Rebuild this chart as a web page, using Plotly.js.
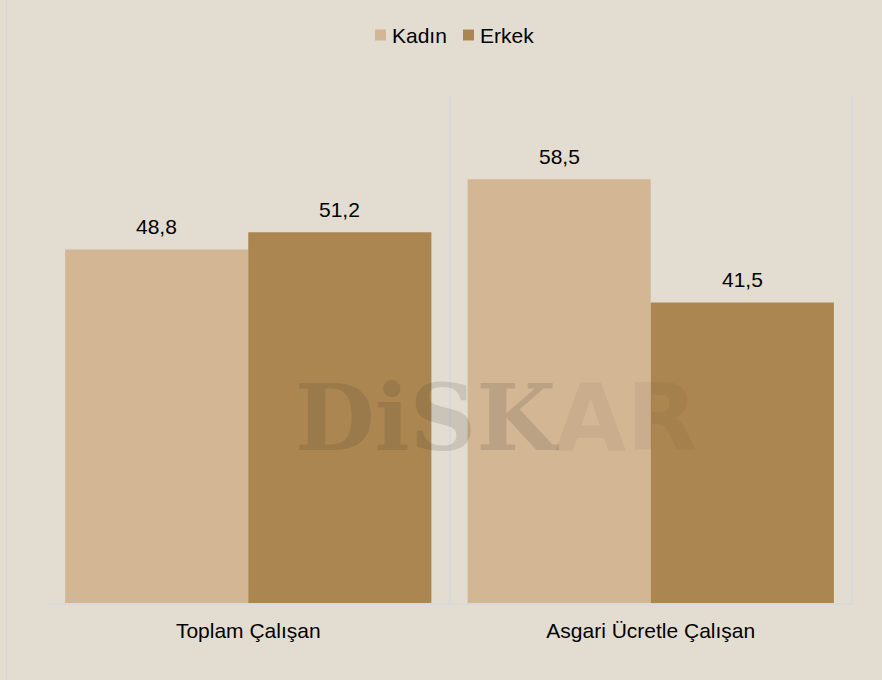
<!DOCTYPE html>
<html>
<head>
<meta charset="utf-8">
<script src="https://cdn.plot.ly/plotly-3.0.1.min.js"></script>
<style>html,body{margin:0;padding:0;background:#E3DDD1;}#chart{width:882px;height:680px;}</style>
</head>
<body>
<div id="chart"></div>
<script>
var categories = ["Toplam Çalışan", "Asgari Ücretle Çalışan"];
var seriesNames = ["Kadın", "Erkek"];
var kadin = [48.8, 58.5];
var erkek = [51.2, 41.5];
var seriesValues = [kadin, erkek];
var seriesColors = ["#D3B795", "#AB8650"];

function fmt(v){ return v.toFixed(1).replace(".", ","); }

var traces = seriesValues.map(function(vals, i){
  return {
    type: "bar",
    name: seriesNames[i],
    x: categories,
    y: vals,
    marker: {color: seriesColors[i]},
    hoverinfo: "none",
    showlegend: false
  };
});

var plotL = 47, plotR = 852, plotT = 96, plotB = 603;
var pw = plotR - plotL, ph = plotB - plotT;
function px(x){ return (x - plotL) / pw; }
function py(y){ return (plotB - y) / ph; }

var bargap = 0.09;
var barW = (1 - bargap) / 2;
var annotations = [];
seriesValues.forEach(function(vals, i){
  vals.forEach(function(v, j){
    annotations.push({
      x: j + (i - 0.5) * barW,
      y: v,
      xref: "x", yref: "y",
      text: fmt(v),
      showarrow: false,
      yanchor: "middle",
      yshift: 23,
      font: {family: "Liberation Sans, Arial, sans-serif", size: 21, color: "#000000"}
    });
  });
});

// custom legend (squares + names)
var legendSquareX = [375, 463];
var shapes = [];
seriesNames.forEach(function(name, i){
  var x0 = legendSquareX[i];
  shapes.push({
    type: "rect", xref: "paper", yref: "paper",
    x0: px(x0), x1: px(x0 + 11), y0: py(40.5), y1: py(29.5),
    fillcolor: seriesColors[i], line: {width: 0}
  });
  annotations.push({
    xref: "paper", yref: "paper",
    x: px(x0 + 15), y: py(35),
    xanchor: "left", yanchor: "middle",
    text: name, showarrow: false,
    font: {family: "Liberation Sans, Arial, sans-serif", size: 21, color: "#000000"}
  });
});

// watermark
annotations.push({
  xref: "paper", yref: "paper",
  x: px(293), y: py(418),
  xanchor: "left", yanchor: "middle",
  text: "<b>DiSK</b>",
  showarrow: false,
  font: {family: "DejaVu Serif, serif", size: 92, color: "rgba(60,50,40,0.15)"}
});
annotations.push({
  xref: "paper", yref: "paper",
  x: px(553), y: py(418),
  xanchor: "left", yanchor: "middle",
  text: "<b>AR</b>",
  showarrow: false,
  font: {family: "DejaVu Sans, sans-serif", size: 92, color: "rgba(90,70,50,0.08)"}
});

shapes.push({
  type: "line", xref: "paper", yref: "paper",
  x0: px(6.5), x1: px(6.5), y0: py(680), y1: py(0),
  line: {color: "#D6D6D6", width: 1.5}
});
shapes.push({
  type: "line", xref: "paper", yref: "paper",
  x0: 1, x1: 1, y0: 0, y1: 1,
  line: {color: "#D9D9D9", width: 2}
});

var layout = {
  width: 882, height: 680,
  paper_bgcolor: "#E3DDD1",
  plot_bgcolor: "#E3DDD1",
  margin: {l: plotL, r: 882 - plotR, t: plotT, b: 680 - plotB},
  barmode: "group",
  bargap: bargap,
  bargroupgap: 0,
  showlegend: false,
  xaxis: {
    type: "category",
    showgrid: true,
    gridcolor: "#D9D9D9",
    gridwidth: 2,
    tickson: "boundaries",
    ticks: "",
    ticklabelstandoff: 8,
    showline: true,
    linecolor: "#D9D9D9",
    linewidth: 2,
    tickfont: {family: "Liberation Sans, Arial, sans-serif", size: 21, color: "#000000"},
    fixedrange: true
  },
  yaxis: {
    range: [0, 70],
    showgrid: false,
    showticklabels: false,
    zeroline: false,
    showline: false,
    fixedrange: true
  },
  annotations: annotations,
  shapes: shapes
};

Plotly.newPlot("chart", traces, layout, {displayModeBar: false, staticPlot: true});
</script>
</body>
</html>
